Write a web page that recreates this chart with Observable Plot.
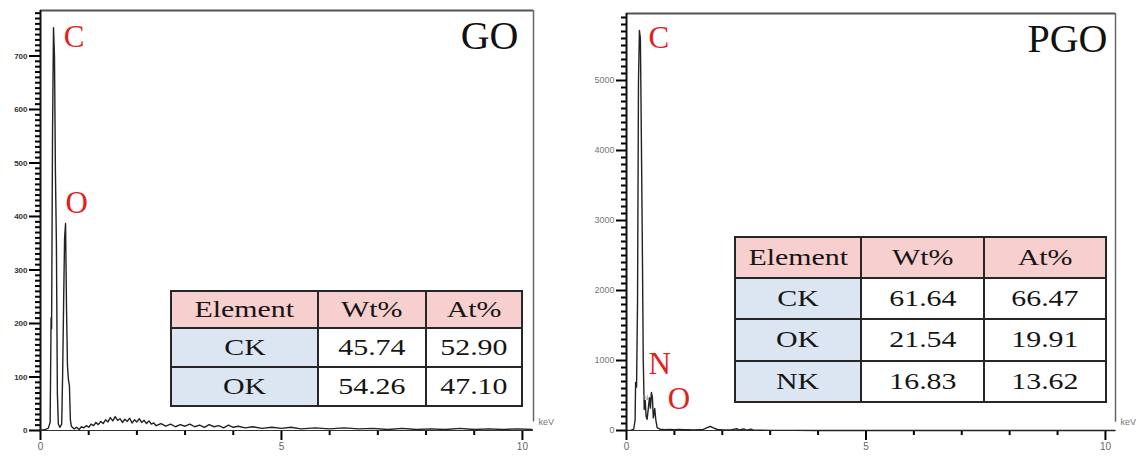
<!DOCTYPE html>
<html>
<head>
<meta charset="utf-8">
<script src="https://cdn.jsdelivr.net/npm/d3@7"></script>
<script src="https://cdn.jsdelivr.net/npm/@observablehq/plot@0.6"></script>
<style>
  html, body { margin: 0; padding: 0; background: #fff; }
  #wrap { position: relative; width: 1143px; height: 457px; overflow: hidden; background: #fff; }
  #wrap svg { position: absolute; top: 0; overflow: visible; }
  table.eds { position: absolute; border-collapse: collapse; font-family: "Liberation Serif", serif; font-size: 23px; color: #151515; table-layout: fixed; }
  table.eds td { border: 2px solid #262626; text-align: center; padding: 0; white-space: nowrap; }
  table.eds tr.head td { background: #f8cfcf; }
  table.eds td.el { background: #dce6f2; }
  table.eds td span { display: inline-block; transform: scaleX(1.3); }
</style>
</head>
<body>
<div id="wrap"></div>
<script>
// ---------- GO spectrum (keV, counts) ----------
const goEnergy = [0.00,0.10,0.16,0.20,0.22,0.23,0.25,0.27,0.29,0.31,0.33,0.35,0.37,0.40,0.44,0.46,0.48,0.50,0.52,0.54,0.56,0.58,0.60,0.62,
  0.64,0.70,0.75,0.80,0.85,0.90,0.95,1.00,1.05,1.10,1.15,1.20,1.25,1.30,1.35,1.40,1.45,1.50,1.55,1.60,1.65,1.70,1.75,1.80,1.85,1.90,1.95,2.00,
  2.05,2.10,2.15,2.20,2.25,2.30,2.35,2.40,2.50,2.60,2.70,2.80,2.90,3.00,3.10,3.20,3.30,3.40,3.50,3.60,3.70,3.80,3.90,4.00,4.10,4.25,4.40,4.60,
  4.80,5.00,5.20,5.40,5.70,6.00,6.30,6.60,6.90,7.20,7.50,7.80,8.10,8.40,8.70,9.00,9.30,9.60,9.90,10.20];
const goCounts = [0,2,4,15,211,190,560,753,700,480,351,70,12,6,12,108,240,360,387,228,120,95,84,20,
  8,3,6,2,7,5,9,6,12,9,15,11,17,13,20,16,24,18,26,19,22,15,21,17,23,14,20,16,
  22,15,19,13,18,12,14,9,13,8,12,7,11,8,12,7,10,6,11,7,9,5,10,6,8,5,7,4,
  6,4,6,3,5,3,5,3,4,2,4,2,3,2,4,2,3,2,3,2];

// ---------- PGO spectrum (keV, counts) ----------
const pgoEnergy = [0.00,0.10,0.15,0.18,0.19,0.21,0.23,0.25,0.27,0.29,0.31,0.33,0.35,0.37,0.39,0.41,0.43,0.45,0.48,0.50,0.52,0.54,0.56,0.59,0.61,0.64,
  0.70,0.80,0.90,1.00,1.10,1.20,1.30,1.40,1.50,1.60,1.70,1.75,1.80,1.90,2.00,2.10,2.20,2.30,2.35,2.45,2.50,2.60,2.65,2.80,3.00,3.50,4.00,
  4.50,5.00,5.50,6.00,6.50,7.00,7.50,8.00,8.50,9.00,9.50,10.00,10.20];
const pgoCounts = [0,5,20,150,686,620,1800,4980,5714,5600,4200,2700,1000,300,430,200,160,280,470,320,543,480,180,314,160,40,
  18,12,15,10,14,11,13,9,12,15,45,60,40,14,10,8,12,25,8,22,6,18,5,3,2,2,1,
  1,1,1,1,1,1,1,1,1,1,1,1,1];

// ---------- axes ----------
const goYTicks = [0,100,200,300,400,500,600,700];
const pgoYTicks = [0,1000,2000,3000,4000,5000];
const xTicks = [0,5,10];
const xMinorTicks = [1,2,3,4,6,7,8,9];
const goXDomain = [0, 10.23], goYDomain = [0, 785];
const pgoXDomain = [0, 10.21], pgoYDomain = [0, 5957];

// ---------- peak labels (data coordinates) ----------
const goLabelText = ["C","O"];
const goLabelX = [0.48, 0.52];
const goLabelY = [716, 406];
const pgoLabelText = ["C","N","O"];
const pgoLabelX = [0.46, 0.46, 0.86];
const pgoLabelY = [5471, 814, 314];
const pgoMarkerText = ["N"];
const pgoMarkerX = [0.40];
const pgoMarkerY = [471];

// ---------- tables ----------
const tableHeader = ["Element","Wt%","At%"];
const goElements = ["CK","OK"];
const goWt = ["45.74","54.26"];
const goAt = ["52.90","47.10"];
const pgoElements = ["CK","OK","NK"];
const pgoWt = ["61.64","21.54","16.83"];
const pgoAt = ["66.47","19.91","13.62"];

function panel(cfg) {
  const height = 457, marginBottom = 27;
  const spec = cfg.energy.map((e, i) => ({e, c: cfg.counts[i]}));
  const labels = cfg.labelText.map((t, i) => ({t, x: cfg.labelX[i], y: cfg.labelY[i]}));
  const markers = (cfg.markerText || []).map((t, i) => ({t, x: cfg.markerX[i], y: cfg.markerY[i]}));
  const minorY = d3.range(0, cfg.yDomain[1], cfg.minorStep).filter(v => !cfg.yTicks.includes(v));
  return Plot.plot({
    width: cfg.width, height,
    marginLeft: cfg.marginLeft, marginRight: cfg.marginRight, marginTop: cfg.marginTop, marginBottom,
    style: {fontFamily: "Liberation Sans, sans-serif", fontSize: "9px", background: "white", color: "#111", overflow: "visible"},
    x: {domain: cfg.xDomain},
    y: {domain: cfg.yDomain},
    marks: [
      // minor and major ticks (Plot axis marks)
      Plot.axisY({ticks: minorY, tickSize: 5, tickFormat: () => "", label: null, stroke: "#000", strokeWidth: 2}),
      Plot.axisY({ticks: cfg.yTicks, tickSize: cfg.majorTick, tickPadding: 2, label: null, tickFormat: d3.format("d"),
        fontSize: cfg.yFont, fill: cfg.yLabelColor, fontWeight: cfg.yWeight, stroke: "#000", strokeWidth: 2}),
      Plot.axisX({ticks: xMinorTicks, tickSize: 5, tickFormat: () => "", label: null, stroke: "#000", strokeWidth: 2}),
      Plot.axisX({ticks: xTicks, tickSize: 10, tickPadding: 2, label: null, fontSize: 10, fill: "#666", stroke: "#000", strokeWidth: 2}),
      // frame
      Plot.ruleY([cfg.yDomain[1]], {stroke: "#555", strokeWidth: 2}),
      Plot.ruleX([cfg.xDomain[1]], {stroke: "#666", strokeWidth: 1.5, y1: cfg.yDomain[1] * 0.02, y2: cfg.yDomain[1]}),
      Plot.ruleY([0], {stroke: "#333", strokeWidth: 1.2}),
      Plot.ruleX([0], {stroke: "#111", strokeWidth: 2}),
      // spectrum
      Plot.line(spec, {x: "e", y: "c", stroke: "#222", strokeWidth: 1.4}),
      // labels
      Plot.text(labels, {x: "x", y: "y", text: "t", textAnchor: "start", lineAnchor: "bottom",
        fontFamily: "Liberation Serif, serif", fontSize: 31, fill: "#e3211c"}),
      Plot.text(markers, {x: "x", y: "y", text: "t", fontSize: 8, fill: "#888"}),
      Plot.text([cfg.title], {frameAnchor: "top-right", text: d => d, textAnchor: "end", lineAnchor: "top",
        dx: cfg.titleDx, dy: 10, fontFamily: "Liberation Serif, serif", fontSize: 40, fill: "#111"}),
      Plot.text(["keV"], {frameAnchor: "bottom-right", text: d => d, textAnchor: "start", lineAnchor: "middle",
        dx: 5, dy: -8, fontSize: 9, fill: "#777"})
    ]
  });
}

function makeTable(left, top, colW, rowH, elements, wt, at) {
  const t = document.createElement("table");
  t.className = "eds";
  t.style.left = left + "px";
  t.style.top = top + "px";
  const rows = [tableHeader].concat(elements.map((e, i) => [e, wt[i], at[i]]));
  rows.forEach((r, ri) => {
    const tr = document.createElement("tr");
    if (ri === 0) tr.className = "head";
    tr.style.height = rowH[ri] + "px";
    r.forEach((v, ci) => {
      const td = document.createElement("td");
      td.style.width = colW[ci] + "px";
      if (ri > 0 && ci === 0) td.className = "el";
      const s = document.createElement("span");
      s.textContent = v;
      td.appendChild(s);
      tr.appendChild(td);
    });
    t.appendChild(tr);
  });
  return t;
}

const wrap = document.getElementById("wrap");
const left = panel({
  width: 565, marginLeft: 40, marginRight: 32, marginTop: 10,
  xDomain: goXDomain, yDomain: goYDomain, yTicks: goYTicks, minorStep: 10, majorTick: 11,
  yFont: 8, yLabelColor: "#333", yWeight: "bold",
  energy: goEnergy, counts: goCounts,
  labelText: goLabelText, labelX: goLabelX, labelY: goLabelY,
  title: "GO", titleDx: -15
});
left.style.left = "0px";
wrap.appendChild(left);

const right = panel({
  width: 578, marginLeft: 61, marginRight: 28, marginTop: 13,
  xDomain: pgoXDomain, yDomain: pgoYDomain, yTicks: pgoYTicks, minorStep: 100, majorTick: 10,
  yFont: 9, yLabelColor: "#777", yWeight: "normal",
  energy: pgoEnergy, counts: pgoCounts,
  labelText: pgoLabelText, labelX: pgoLabelX, labelY: pgoLabelY,
  markerText: pgoMarkerText, markerX: pgoMarkerX, markerY: pgoMarkerY,
  title: "PGO", titleDx: -8
});
right.style.left = "565px";
wrap.appendChild(right);

wrap.appendChild(makeTable(170, 290, [145, 106, 94], [37, 39, 39], goElements, goWt, goAt));
wrap.appendChild(makeTable(734, 236, [124, 121, 120], [41, 41, 42, 41], pgoElements, pgoWt, pgoAt));
</script>
</body>
</html>
